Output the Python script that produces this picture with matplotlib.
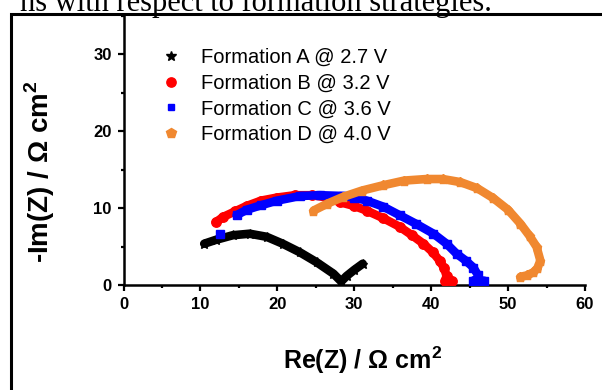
import matplotlib
matplotlib.use("Agg")
import matplotlib.pyplot as plt
from matplotlib.lines import Line2D
from matplotlib.patches import Rectangle
from matplotlib.ticker import MultipleLocator

plt.rcParams['font.family'] = ['Liberation Sans', 'DejaVu Sans']
plt.rcParams['mathtext.fontset'] = 'custom'
plt.rcParams['mathtext.rm'] = 'Liberation Sans'
plt.rcParams['mathtext.bf'] = 'Liberation Sans:bold'

# ---- data ----
labels = ["Formation A @ 2.7 V", "Formation B @ 3.2 V",
          "Formation C @ 3.6 V", "Formation D @ 4.0 V"]

a_re = [10.5, 12.0, 14.2, 16.4, 18.6, 20.7, 22.9, 25.1, 27.3, 28.3, 29.0, 30.0, 31.1]
a_im = [5.4, 5.9, 6.5, 6.7, 6.3, 5.4, 4.3, 3.0, 1.5, 0.5, 1.2, 2.0, 2.8]

b_re = [12.0, 13.0, 14.5, 16.0, 17.9, 20.0, 22.3, 24.5, 26.5, 28.1, 30.0, 31.6,
        33.8, 35.9, 37.5, 39.0, 40.2, 41.1, 41.7, 42.0, 41.8, 42.7]
b_im = [8.2, 8.9, 9.6, 10.3, 11.0, 11.4, 11.7, 11.7, 11.4, 10.8, 10.3, 9.7,
        8.7, 7.6, 6.5, 5.4, 4.3, 3.2, 2.2, 1.2, 0.6, 0.6]

c_re = [12.5, 14.7, 16.0, 17.9, 20.0, 23.0, 25.5, 28.6, 30.0, 31.6, 33.8, 35.9,
        38.0, 40.3, 42.0, 43.3, 44.5, 45.5, 46.1, 46.2, 45.5, 46.9]
c_im = [6.7, 9.1, 9.8, 10.4, 11.0, 11.6, 11.7, 11.6, 11.4, 11.0, 10.2, 9.1,
        8.0, 6.7, 5.4, 4.1, 3.2, 2.3, 1.3, 0.6, 0.6, 0.6]

d_re = [24.7, 26.5, 28.6, 31.0, 33.8, 36.5, 39.4, 41.5, 43.8, 46.0, 48.1, 50.0,
        51.6, 52.8, 53.7, 54.2, 53.8, 53.3, 52.5, 51.6]
d_im = [9.7, 10.6, 11.5, 12.3, 13.0, 13.6, 13.8, 13.8, 13.4, 12.6, 11.3, 9.8,
        8.0, 6.4, 5.0, 3.2, 2.2, 1.7, 1.3, 1.1]

x_ticks = [0, 10, 20, 30, 40, 50, 60]
y_ticks = [0, 10, 20, 30]

colors = ['black', '#FF0000', '#0000FF', '#F08830']
markers = ['*', 'o', 's', 'p']
msizes = [7.5, 6.7, 5.0, 7.7]

W, H = 602, 390
fig = plt.figure(figsize=(W / 100, H / 100), dpi=100)
ax = fig.add_axes([123.5 / W, (H - 285.3) / H, (585 - 123.5) / W, (285.3 - 15) / H])

band = 6.2
series = [(a_re, a_im), (b_re, b_im), (c_re, c_im), (d_re, d_im)]
for i, (xs, ys) in enumerate(series):
    start = 1 if i == 2 else 0  # first blue point is isolated
    ax.plot(xs[start:], ys[start:], color=colors[i], lw=band,
            solid_capstyle='round', solid_joinstyle='round', zorder=2 + i)
    ax.plot(xs, ys, ls='none', marker=markers[i], ms=6.8 if i != 2 else 5.6,
            color=colors[i], mec=colors[i], zorder=2 + i)

ax.set_xlim(0, 60)
ax.set_ylim(0, 35.1)
ax.set_xticks(x_ticks)
ax.set_yticks(y_ticks)
ax.xaxis.set_minor_locator(MultipleLocator(5))
ax.yaxis.set_minor_locator(MultipleLocator(5))
for s in ['top', 'right']:
    ax.spines[s].set_visible(False)
for s in ['left', 'bottom']:
    ax.spines[s].set_linewidth(1.8)
ax.tick_params(which='major', direction='out', length=4.5, width=1.6,
               labelsize=12, pad=4)
ax.tick_params(which='minor', direction='out', length=2.5, width=1.6)
for lab in ax.get_xticklabels() + ax.get_yticklabels():
    lab.set_fontweight('bold')

ax.set_xlabel(r'Re(Z) / Ω cm$^{\mathbf{2}}$', fontsize=18, fontweight='bold')
ax.set_ylabel(r'-Im(Z) / Ω cm$^{\mathbf{2}}$', fontsize=20, fontweight='bold')
ax.xaxis.set_label_coords((363 - 123.5) / (585 - 123.5), -(345 - 285.3) / 270.3)
ax.yaxis.set_label_coords(-(123.5 - 57) / (585 - 123.5), (285.3 - 172) / 270.3)

handles = [Line2D([], [], ls='none', marker=markers[i], ms=msizes[i],
                  color=colors[i], mec=colors[i]) for i in range(4)]
ax.legend(handles, labels, loc='upper left', frameon=False, fontsize=14.5,
          bbox_to_anchor=((161.3 - 123.5) / (585 - 123.5), (285.3 - 48) / 270.3),
          borderpad=0, borderaxespad=0, handlelength=1.0, handletextpad=0.95,
          labelspacing=0.33)

# outer frame of the original figure and cropped caption text above it
fig.add_artist(Rectangle((11 / W, -0.2), 1.5, (H - 14.3) / H + 0.2,
                         transform=fig.transFigure, fill=False, lw=2.2,
                         color='black', clip_on=False))
fig.text(20 / W, (H - 11) / H, 'ns with respect to formation strategies.',
         fontsize=22, family='Liberation Serif', va='baseline', ha='left')

fig.savefig('out.png', dpi=100)
